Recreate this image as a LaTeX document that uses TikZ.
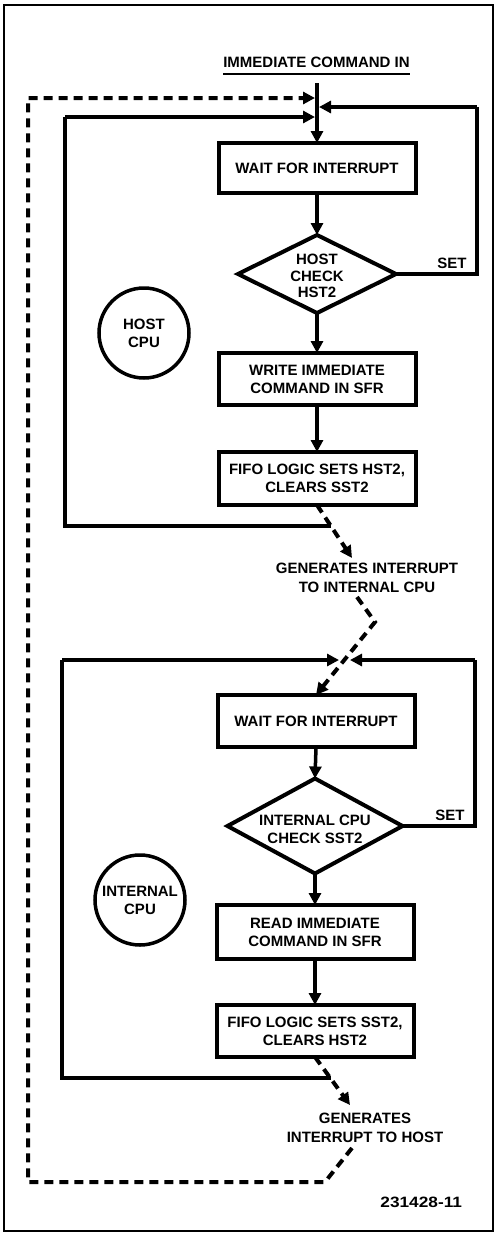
\documentclass[tikz,border=0pt]{standalone}
\usepackage{fontspec}
\usepackage{graphicx}
\setmainfont{Liberation Sans}
\usetikzlibrary{arrows.meta,shapes.geometric}
\begin{document}
\begin{tikzpicture}[x=1pt,y=-1pt,
  font=\fontsize{15}{18}\selectfont\bfseries,
  every node/.style={inner sep=0pt, outer sep=0pt},
  pbox/.style={draw, line width=4pt, minimum width=197pt, minimum height=52pt, align=center},
  dmd/.style={draw, diamond, line width=4pt, inner sep=0pt},
  cpu/.style={draw, circle, line width=3.5pt, minimum size=90pt, align=center},
  lbl/.style={align=center, font=\fontsize{15}{19.5}\selectfont\bfseries},
  conn/.style={line width=3.5pt},
  tip/.style={-{Triangle[length=12pt,width=12pt]}},
  dsh/.style={line width=4pt, dash pattern=on 9pt off 6pt},
]
\useasboundingbox (0,0) rectangle (496,1235);
\draw[line width=2.5pt] (4,5) rectangle (493,1231);

% ---------- HOST section ----------
\node (imm) at (316.5,62) {IMMEDIATE COMMAND IN};
\draw[line width=2.5pt] ([yshift=-7pt]imm.base west) -- ([yshift=-7pt]imm.base east);

\node[pbox, minimum height=50pt] (wait1) at (317,168) {WAIT FOR INTERRUPT};
\node[dmd, minimum width=158pt, minimum height=78pt] (d1) at (317,274) {};
\node[lbl, font=\fontsize{15}{16.5}\selectfont\bfseries] (d1t) at (317,276) {HOST\\CHECK\\HST2};
\node[pbox] (write) at (317,379) {WRITE IMMEDIATE\\COMMAND IN SFR};
\node[pbox, minimum height=53pt] (fifo1) at (317,478.5) {FIFO LOGIC SETS HST2,\\CLEARS SST2};
\node[cpu] (host) at (144,333) {HOST\\CPU};
\node (set1) at (452,263) {SET};
\node[lbl] (gen1) at (367,578) {GENERATES INTERRUPT\\TO INTERNAL CPU};

\coordinate (in1) at (317,83);
\coordinate (jl1) at (315,117);
\coordinate (jd1) at (315,98);
\coordinate (jr1) at (319,107);
\coordinate (r1) at (477,274);
\coordinate (r1t) at (477,107);
\coordinate (l1b) at (65,526);
\coordinate (l1t) at (65,117);
\coordinate (s1) at (331,526);

\draw[conn,tip] (in1) -- (wait1.north);
\draw[conn,tip] (wait1.south) -- (d1.north);
\draw[conn,tip] (d1.south) -- (write.north);
\draw[conn,tip] (write.south) -- (fifo1.north);
\draw[conn] (d1.east) -- (r1) -- (r1t);
\draw[conn,tip] (r1t) -- (jr1);
\draw[conn] (s1) -- (l1b) -- (l1t);
\draw[conn,tip] (l1t) -- (jl1);

% ---------- INTERNAL section ----------
\node[pbox] (wait2) at (316,721) {WAIT FOR INTERRUPT};
\node[dmd, minimum width=175pt, minimum height=95pt] (d2) at (315,826) {};
\node[lbl, font=\fontsize{15}{18}\selectfont\bfseries] (d2t) at (315,829) {INTERNAL CPU\\CHECK SST2};
\node[pbox, minimum height=54pt] (read) at (315,932) {READ IMMEDIATE\\COMMAND IN SFR};
\node[pbox] (fifo2) at (315,1031) {FIFO LOGIC SETS SST2,\\CLEARS HST2};
\node[cpu] (int) at (140,900) {INTERNAL\\CPU};
\node (set2) at (450,815) {SET};
\node[lbl] (gen2) at (365,1128) {GENERATES\\INTERRUPT TO HOST};
\node[anchor=east, font=\fontsize{15}{16}\selectfont\bfseries] (fig) at (462,1202) {\scalebox{1.15}[1]{231428-11}};

% interrupt to internal CPU
\coordinate (g1a) at (352,558);
\coordinate (g1b) at (357,597);
\coordinate (z1) at (375,622);
\draw[dsh,tip] (fifo1.south) -- (g1a);
\draw[dsh,tip] (g1b) -- (z1) -- (wait2.north);

\coordinate (jl2) at (339,660);
\coordinate (jr2) at (350,660);
\coordinate (r2) at (475,826);
\coordinate (r2t) at (475,660);
\coordinate (l2b) at (62,1078);
\coordinate (l2t) at (62,660);
\coordinate (s2) at (331,1078);

\draw[conn,tip] (wait2.south) -- (d2.north);
\draw[conn,tip] (d2.south) -- (read.north);
\draw[conn,tip] (read.south) -- (fifo2.north);
\draw[conn] (d2.east) -- (r2) -- (r2t);
\draw[conn,tip] (r2t) -- (jr2);
\draw[conn] (s2) -- (l2b) -- (l2t);
\draw[conn,tip] (l2t) -- (jl2);

% interrupt to host
\coordinate (g2a) at (350,1105);
\coordinate (g2b) at (352,1148);
\coordinate (z2) at (325,1182);
\coordinate (z3) at (28,1182);
\coordinate (z4) at (28,98);
\draw[dsh,tip] (fifo2.south) -- (g2a);
\draw[dsh,tip] (g2b) -- (z2) -- (z3) -- (z4) -- (jd1);
\end{tikzpicture}
\end{document}
